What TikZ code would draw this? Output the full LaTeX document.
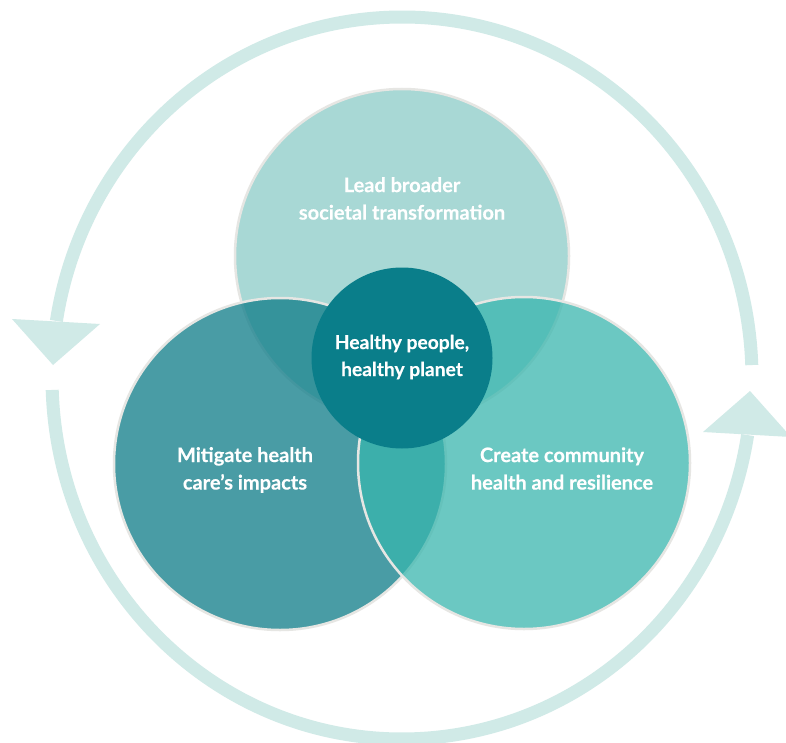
\documentclass[tikz,border=0pt]{standalone}
\usepackage{fontspec}
\setmainfont{Lato}
\newfontfamily\lblfont{Lato}[BoldFeatures={FakeBold=0.35}]
\definecolor{ringc}{HTML}{D0EAE7}
\definecolor{topc}{HTML}{A8D8D5}
\definecolor{leftc}{HTML}{117E8A}
\definecolor{rightc}{HTML}{38B6AE}
\definecolor{midc}{HTML}{0A7E8A}
\definecolor{edgec}{HTML}{E6E6E3}
\begin{document}
\begin{tikzpicture}[x=1pt,y=1pt,
  ring/.style={draw=ringc,line width=13pt,line cap=butt},
  arrowhd/.style={fill=ringc},
  bigc/.style={circle,inner sep=0pt,minimum size=332pt,draw=edgec,line width=2.5pt},
  lbl/.style={text=white,font=\lblfont\bfseries\fontsize{20}{27.5}\selectfont,align=center,inner sep=0pt},
  midlbl/.style={lbl,font=\lblfont\bfseries\fontsize{19.2}{27}\selectfont}]
\useasboundingbox (0,0) rectangle (786,-743);
\fill[white] (0,0) rectangle (786,-743);
% outer cycle ring
\coordinate (C) at (402,-378);
\draw[ring] (C) ++(2.06:350 and 361) arc[start angle=2.06,end angle=170.9,x radius=350,y radius=361];
\draw[ring] (C) ++(181.9:350 and 361) arc[start angle=181.9,end angle=350.9,x radius=350,y radius=361];
\coordinate (la1) at (12,-319);
\coordinate (la2) at (100,-324);
\coordinate (latip) at (53,-365);
\coordinate (ra1) at (703,-432);
\coordinate (ra2) at (791,-437);
\coordinate (ratip) at (750,-391);
\fill[arrowhd] (la1) -- (la2) -- (latip) -- cycle;
\fill[arrowhd] (ra1) -- (ra2) -- (ratip) -- cycle;
% circles
\node[bigc,fill=topc,minimum size=334pt] (top) at (402,-256) {};
\node[bigc,fill=leftc,fill opacity=0.76] (left) at (280,-464) {};
\node[bigc,fill=rightc,fill opacity=0.74] (right) at (524,-463) {};
\node[circle,inner sep=0pt,minimum size=181pt,fill=midc] (mid) at (402,-358) {};
% labels
\node[lbl] (tlbl) at (402,-198.5) {Lead broader\\societal transformation};
\node[midlbl] (mlbl) at (402,-357) {Healthy people,\\healthy planet};
\node[lbl] (llbl) at (245,-470) {Mitigate health\\care’s impacts};
\node[lbl] (rlbl) at (562,-468.5) {Create community\\health and resilience};
\end{tikzpicture}
\end{document}
